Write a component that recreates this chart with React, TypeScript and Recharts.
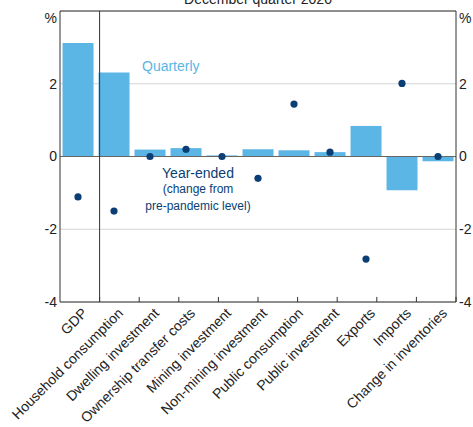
import React from 'react';
import {
  ComposedChart,
  Bar,
  Scatter,
  XAxis,
  YAxis,
  CartesianGrid,
  ReferenceLine,
} from 'recharts';

const categories = [
  'GDP',
  'Household consumption',
  'Dwelling investment',
  'Ownership transfer costs',
  'Mining investment',
  'Non-mining investment',
  'Public consumption',
  'Public investment',
  'Exports',
  'Imports',
  'Change in inventories',
];
const quarterly = [3.12, 2.31, 0.19, 0.23, 0.03, 0.2, 0.17, 0.12, 0.84, -0.93, -0.13];
const yearEnded = [-1.11, -1.5, 0.0, 0.2, 0.0, -0.6, 1.44, 0.12, -2.82, 2.01, 0.0];
const yTicks = [-4, -2, 0, 2, 4];
const boundaries = [1, 2, 3, 4, 5, 6, 7, 8, 9, 10];

const data = categories.map((name, i) => ({
  name,
  quarterly: quarterly[i],
  yearEnded: yearEnded[i],
}));

const FONT = '"Liberation Sans", Arial, sans-serif';
const LIGHT = '#5bb5e5';
const DARK = '#0a3e74';

const LeftTick = (props: any) => {
  const { x, y, payload } = props;
  const isTop = payload.value === 4;
  return (
    <text x={x} y={y + (isTop ? 7 : 0)} dy="0.35em" textAnchor="end" fontSize={14} fontFamily={FONT} fill="#222">
      {isTop ? '%' : payload.value}
    </text>
  );
};

const RightTick = (props: any) => {
  const { x, y, payload } = props;
  const isTop = payload.value === 4;
  return (
    <text x={x} y={y + (isTop ? 7 : 0)} dy="0.35em" textAnchor="start" fontSize={14} fontFamily={FONT} fill="#222">
      {isTop ? '%' : payload.value}
    </text>
  );
};

const CatTick = (props: any) => {
  const { x, y, payload } = props;
  return (
    <text
      transform={`translate(${x + 10},${y + 10}) rotate(-45)`}
      textAnchor="end"
      fontSize={14}
      fontFamily={FONT}
      fill="#222"
    >
      {payload.value}
    </text>
  );
};

const Dot = (props: any) => <circle cx={props.cx} cy={props.cy} r={3.6} fill={DARK} />;

export default function App() {
  return (
    <div style={{ position: 'absolute', left: 0, top: 0, width: 473, height: 427, overflow: 'hidden', background: '#fff' }}>
      <div
        style={{
          position: 'absolute',
          left: 258,
          top: -9,
          transform: 'translateX(-50%)',
          fontFamily: FONT,
          fontSize: 14,
          whiteSpace: 'nowrap',
          color: '#222',
        }}
      >
        December quarter 2020
      </div>
      <ComposedChart
        width={473}
        height={427}
        data={data}
        margin={{ top: 11, right: 0, bottom: 0, left: 0 }}
        barCategoryGap="7%"
      >
        <CartesianGrid vertical={false} stroke="#d4d4d4" yAxisId="l" />
        <XAxis
          dataKey="name"
          interval={0}
          height={125}
          tickLine={false}
          tickSize={0}
          axisLine={{ stroke: '#333' }}
          tick={<CatTick />}
        />
        <XAxis xAxisId="n" type="number" domain={[0, 11]} hide />
        <YAxis
          yAxisId="l"
          width={60}
          domain={[-4, 4]}
          allowDataOverflow
          ticks={yTicks}
          tickLine={false}
          tickSize={0}
          tickMargin={3}
          axisLine={{ stroke: '#333' }}
          tick={<LeftTick />}
        />
        <YAxis
          yAxisId="r"
          orientation="right"
          width={17}
          domain={[-4, 4]}
          allowDataOverflow
          ticks={yTicks}
          tickLine={false}
          tickSize={0}
          tickMargin={3}
          axisLine={{ stroke: '#333' }}
          tick={<RightTick />}
        />
        <ReferenceLine yAxisId="l" y={0} stroke="#666" />
        <Bar yAxisId="l" dataKey="quarterly" fill={LIGHT} isAnimationActive={false} />
        <ReferenceLine yAxisId="r" y={4} stroke="#333" />
        <ReferenceLine yAxisId="l" xAxisId="n" x={1} stroke="#333" />
        {boundaries.map((b) => (
          <ReferenceLine
            key={b}
            yAxisId="l"
            xAxisId="n"
            segment={[
              { x: b, y: -4 },
              { x: b, y: -3.86 },
            ]}
            stroke="#333"
          />
        ))}
        <Scatter yAxisId="r" dataKey="yearEnded" fill={DARK} shape={<Dot />} isAnimationActive={false} />
      </ComposedChart>
      <div style={{ position: 'absolute', left: 142, top: 58, fontFamily: FONT, fontSize: 14, color: LIGHT }}>
        Quarterly
      </div>
      <div
        style={{
          position: 'absolute',
          left: 198,
          top: 165,
          transform: 'translateX(-50%)',
          fontFamily: FONT,
          color: DARK,
          textAlign: 'center',
          whiteSpace: 'nowrap',
        }}
      >
        <div style={{ fontSize: 14, lineHeight: '16px' }}>Year-ended</div>
        <div style={{ fontSize: 12, lineHeight: '16.5px' }}>(change from</div>
        <div style={{ fontSize: 12, lineHeight: '16.5px' }}>pre-pandemic level)</div>
      </div>
    </div>
  );
}
